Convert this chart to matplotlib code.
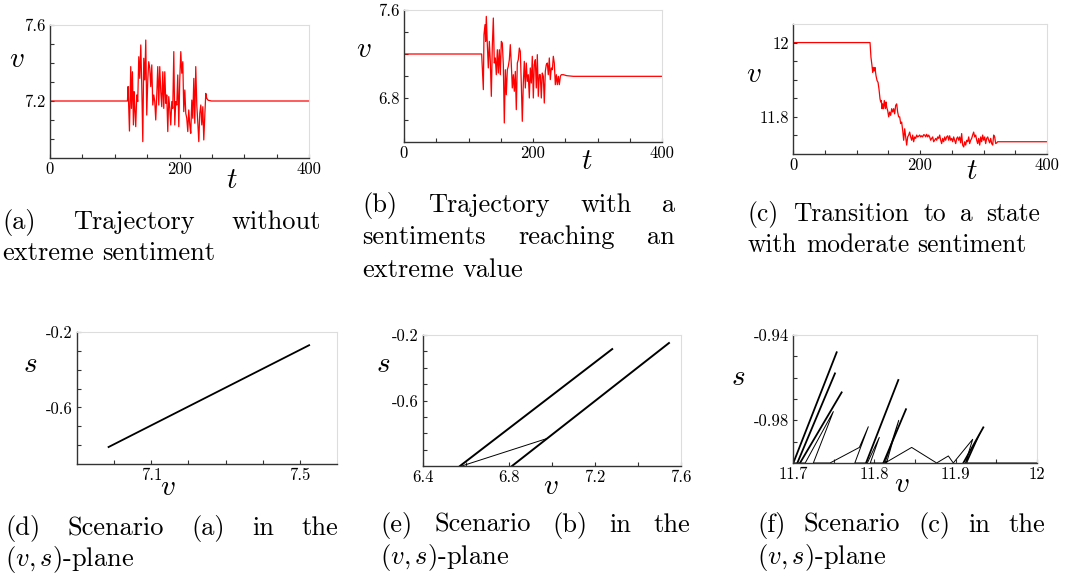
import numpy as np
import matplotlib.pyplot as plt

plt.rcParams['font.family'] = 'cmr10'
plt.rcParams['mathtext.fontset'] = 'cm'
plt.rcParams['axes.unicode_minus'] = False
plt.rcParams['axes.formatter.use_mathtext'] = True

W, H = 1068, 579
RED = '#ff0000'
DARK = '#333333'
LIGHT = '#dddddd'
TICK_FS = 12
LABEL_FS = 21
CAP_FS = 19

# ---- (a) trajectory without extreme sentiment
a_t = [0, 119.6, 120.6, 122.7, 124.7, 125.8, 127.3, 128.8, 129.9, 130.9, 132.4, 134.0, 135.5, 137.1, 138.6,
       140.2, 141.7, 143.3, 144.8, 146.4, 147.9, 149.4, 151.0, 152.5, 154.1, 155.6, 157.2, 158.7, 160.3, 161.8,
       163.3, 164.9, 166.4, 168.0, 169.5, 171.1, 172.6, 174.2, 175.7, 177.3, 178.8, 180.3, 181.9, 183.4, 185.0,
       186.5, 188.1, 189.6, 191.2, 192.7, 194.2, 195.8, 197.3, 198.9, 200.4, 202.0, 203.5, 205.1, 206.6, 208.2,
       209.7, 211.2, 212.8, 214.3, 215.9, 217.4, 219.0, 220.5, 222.1, 223.6, 225.1, 226.7, 228.2, 229.8, 231.3,
       232.9, 234.4, 236.0, 237.5, 239.1, 240.6, 242.1, 244.2, 249.4, 400]
a_v = [7.2, 7.2, 7.276, 7.042, 7.381, 7.161, 7.354, 7.074, 7.249, 7.170, 7.065, 7.232, 7.197, 7.433, 7.319,
       7.495, 7.284, 6.986, 7.425, 7.311, 7.521, 7.126, 7.311, 7.407, 7.372, 7.276, 7.390, 7.179, 7.232, 7.197,
       7.100, 7.232, 7.381, 7.179, 7.381, 7.249, 7.170, 7.354, 7.161, 7.354, 7.188, 7.232, 7.039, 7.223, 7.161,
       7.074, 7.197, 7.161, 7.460, 7.074, 7.197, 7.179, 7.337, 7.065, 7.311, 7.460, 7.346, 7.407, 7.144, 7.258,
       7.135, 7.109, 7.039, 7.153, 7.074, 7.030, 7.205, 7.109, 7.319, 7.083, 7.381, 7.179, 7.091, 6.986, 7.135,
       7.179, 7.074, 7.170, 6.995, 7.126, 7.240, 7.214, 7.204, 7.200, 7.2]

# ---- (b) trajectory reaching an extreme value
b_t = [0, 120.4, 123.0, 124.0, 125.6, 126.6, 127.6, 129.2, 130.7, 132.3, 133.8, 135.4, 136.9, 138.5, 140.0,
       141.6, 143.1, 144.7, 146.2, 147.8, 149.3, 150.9, 152.4, 154.0, 155.5, 157.1, 158.6, 160.2, 161.7, 163.3,
       164.8, 166.4, 167.9, 169.5, 171.0, 172.6, 174.1, 175.7, 177.2, 178.8, 180.3, 181.9, 183.4, 185.0, 186.5,
       188.1, 189.6, 191.2, 192.7, 194.3, 195.8, 197.4, 198.9, 200.5, 202.0, 203.6, 205.1, 206.7, 208.2, 209.8,
       211.3, 212.9, 214.4, 216.0, 217.5, 219.1, 220.6, 222.2, 223.7, 225.3, 226.8, 228.4, 230.0, 231.5, 233.0,
       234.6, 236.2, 237.7, 239.3, 240.8, 242.4, 243.9, 247.0, 252.2, 262.5, 400]
b_v = [7.2, 7.200, 6.876, 7.376, 7.467, 7.315, 7.542, 7.285, 7.073, 7.315, 7.133, 6.815, 7.270, 7.527, 7.118,
       7.164, 7.012, 7.239, 7.027, 7.239, 7.012, 7.315, 7.300, 7.103, 6.573, 7.057, 6.830, 7.057, 7.088, 7.148,
       7.285, 7.103, 6.891, 7.012, 6.861, 7.042, 6.694, 7.118, 7.148, 7.254, 7.224, 6.921, 6.588, 6.936, 7.133,
       6.891, 7.118, 6.951, 7.012, 6.800, 7.073, 6.936, 7.179, 6.800, 7.103, 7.148, 6.891, 7.194, 6.815, 7.012,
       7.012, 6.800, 7.027, 6.997, 6.754, 7.042, 7.103, 7.118, 7.012, 7.164, 6.967, 7.073, 7.057, 7.179, 7.118,
       6.921, 7.012, 6.921, 6.997, 6.921, 6.997, 7.012, 7.012, 7.003, 6.997, 6.997]

# ---- (c) transition to moderate sentiment
c_t = [0, 121.3, 122.8, 124.4, 125.5, 126.5, 128.1, 129.1, 130.7, 132.3, 133.9, 135.4, 137.0, 138.1, 139.1,
       140.2, 141.2, 142.3, 143.8, 145.4, 146.5, 147.5, 149.1, 150.7, 152.2, 153.8, 155.4, 157.0, 158.5, 160.1,
       161.7, 163.3, 164.8, 166.4, 168.0, 169.6, 171.1, 172.7, 174.3, 175.9, 177.4, 179.0, 180.6, 182.2, 183.7,
       185.3, 186.9, 188.5, 190.0, 191.6, 193.2, 194.8, 196.3, 197.9, 199.5, 201.1, 202.6, 204.2, 205.8, 207.4,
       208.9, 210.5, 212.1, 213.7, 215.2, 216.8, 218.4, 220.0, 221.5, 223.1, 224.7, 226.3, 227.8, 229.4, 231.0,
       232.6, 234.1, 235.7, 237.3, 238.9, 240.4, 242.0, 243.6, 245.2, 246.7, 248.3, 249.9, 251.5, 253.0, 254.6,
       256.2, 257.8, 259.3, 260.9, 262.5, 264.1, 265.6, 267.2, 268.8, 270.4, 271.9, 273.5, 275.1, 276.7, 278.2,
       279.8, 281.4, 282.9, 284.5, 286.1, 287.7, 289.3, 290.8, 292.4, 294.0, 295.6, 297.1, 298.7, 300.3, 301.9,
       303.4, 305.0, 306.6, 308.2, 309.7, 311.3, 312.9, 314.5, 316.0, 317.6, 319.2, 320.8, 322.3, 400]
c_v = [12.0, 12.000, 11.960, 11.938, 11.920, 11.933, 11.924, 11.933, 11.911, 11.898, 11.893, 11.875, 11.849,
       11.840, 11.844, 11.822, 11.835, 11.822, 11.844, 11.822, 11.840, 11.826, 11.817, 11.800, 11.813, 11.804,
       11.822, 11.813, 11.822, 11.808, 11.831, 11.835, 11.813, 11.800, 11.800, 11.782, 11.786, 11.764, 11.737,
       11.768, 11.746, 11.724, 11.746, 11.751, 11.759, 11.746, 11.737, 11.751, 11.733, 11.746, 11.742, 11.751,
       11.746, 11.748, 11.751, 11.746, 11.749, 11.746, 11.752, 11.751, 11.746, 11.753, 11.746, 11.751, 11.746,
       11.737, 11.742, 11.746, 11.733, 11.737, 11.742, 11.737, 11.746, 11.742, 11.751, 11.737, 11.728, 11.742,
       11.733, 11.746, 11.737, 11.746, 11.749, 11.737, 11.749, 11.737, 11.742, 11.733, 11.746, 11.737, 11.728,
       11.742, 11.746, 11.737, 11.746, 11.730, 11.755, 11.724, 11.719, 11.733, 11.724, 11.737, 11.733, 11.746,
       11.728, 11.737, 11.742, 11.751, 11.759, 11.746, 11.751, 11.737, 11.728, 11.742, 11.724, 11.746, 11.733,
       11.751, 11.737, 11.746, 11.728, 11.742, 11.746, 11.737, 11.730, 11.742, 11.728, 11.724, 11.751, 11.746,
       11.728, 11.730, 11.733, 11.733]

# ---- (d) scenario (a) in the (v, s)-plane
d_v = [6.985, 7.525]
d_s = [-0.810, -0.270]

# ---- (e) scenario (b) in the (v, s)-plane
e1_v, e1_s = [6.572, 7.280], [-1.0, -0.286]
e2_v, e2_s = [6.814, 7.544], [-1.0, -0.249]
ej_v, ej_s = [6.580, 6.977], [-1.0, -0.832]

# ---- (f) scenario (c) in the (v, s)-plane
f_v = [12.000, 11.9135, 11.9299, 11.9120, 11.9209, 11.8971, 11.8910, 11.8766, 11.8459, 11.8131, 11.8300,
       11.8150, 11.7950, 11.8061, 11.7914, 11.7760, 11.7926, 11.7816, 11.7455, 11.7250, 11.7496, 11.7150, 11.7000]
f_s = [-1.000, -1.000, -0.9861, -1.000, -0.9889, -1.000, -0.9967, -1.000, -0.9927, -1.000, -0.9800,
       -1.000, -1.000, -0.9880, -1.000, -1.000, -0.9830, -0.9927, -1.000, -1.000, -0.9759, -1.000, -1.000]
f_foot_v = [11.7004, 11.7053, 11.7086, 11.7898, 11.8111, 11.9094]
f_peak_v = [11.7537, 11.7516, 11.7598, 11.8295, 11.8389, 11.9340]
f_peak_s = [-0.9481, -0.9580, -0.9669, -0.9611, -0.9748, -0.9833]

captions = {
    'a': ["(a) Trajectory without", "extreme sentiment"],
    'b': ["(b) Trajectory with a", "sentiments reaching an", "extreme value"],
    'c': ["(c) Transition to a state", "with moderate sentiment"],
    'd': ["(d) Scenario (a) in the", "$(v,s)$-plane"],
    'e': ["(e) Scenario (b) in the", "$(v,s)$-plane"],
    'f': ["(f) Scenario (c) in the", "$(v,s)$-plane"],
}

fig = plt.figure(figsize=(W / 100, H / 100), dpi=100)


def make_axes(left, top, right, bottom):
    return fig.add_axes([left / W, 1 - bottom / H, (right - left) / W, (bottom - top) / H])


def style(ax, xlim, ylim, xt, xl, xm, yt, yl, ym, xlab, ylab, xlab_pos, ylab_pos):
    ax.set_xlim(xlim)
    ax.set_ylim(ylim)
    for side in ['top', 'right']:
        ax.spines[side].set_color(LIGHT)
        ax.spines[side].set_linewidth(0.8)
    for side in ['left', 'bottom']:
        ax.spines[side].set_color(DARK)
        ax.spines[side].set_linewidth(1.0)
    ax.set_xticks(xt)
    ax.set_xticklabels(xl)
    ax.set_xticks(xm, minor=True)
    ax.set_yticks(yt)
    ax.set_yticklabels(yl)
    ax.set_yticks(ym, minor=True)
    ax.tick_params(which='both', direction='in', length=3, width=0.8, color=DARK, labelsize=TICK_FS, pad=3,
                   top=False, right=False)
    ax.text(*xlab_pos, xlab, transform=ax.transAxes, fontsize=LABEL_FS, ha='center', va='center')
    ax.text(*ylab_pos, ylab, transform=ax.transAxes, fontsize=LABEL_FS, ha='center', va='center')


# top row: v(t)
ax = make_axes(50, 25, 309, 158)
ax.plot(a_t, a_v, color=RED, lw=0.9)
style(ax, (0, 400), (6.9, 7.6), [0, 200, 400], ['0', '200', '400'], [50, 100, 150, 250, 300, 350],
      [7.2, 7.6], ['7.2', '7.6'], [7.0, 7.1, 7.3, 7.4, 7.5], '$t$', '$v$', (0.703, -0.17), (-0.13, 0.74))

ax = make_axes(404, 10, 662, 142)
ax.plot(b_t, b_v, color=RED, lw=0.9)
style(ax, (0, 400), (6.4, 7.6), [0, 200, 400], ['0', '200', '400'], [50, 100, 150, 250, 300, 350],
      [6.8, 7.6], ['6.8', '7.6'], [6.6, 7.0, 7.2, 7.4], '$t$', '$v$', (0.709, -0.15), (-0.155, 0.70))

ax = make_axes(793, 24, 1047, 154)
ax.plot(c_t, c_v, color=RED, lw=0.9)
style(ax, (0, 400), (11.7, 12.05), [0, 200, 400], ['0', '200', '400'], [50, 100, 150, 250, 300, 350],
      [11.8, 12.0], ['11.8', '12'], [11.75, 11.85, 11.9, 11.95], '$t$', '$v$', (0.705, -0.14), (-0.154, 0.61))

# bottom row: (v, s)-plane
ax = make_axes(77, 332, 337, 464)
ax.plot(d_v, d_s, color='black', lw=1.3)
style(ax, (6.9, 7.6), (-0.9, -0.2), [7.1, 7.5], ['7.1', '7.5'], [7.0, 7.2, 7.3, 7.4],
      [-0.6, -0.2], ['-0.6', '-0.2'], [-0.8, -0.7, -0.5, -0.4, -0.3], '$v$', '$s$', (0.35, -0.18), (-0.18, 0.75))

ax = make_axes(423, 335, 681, 466)
ax.plot(e1_v, e1_s, color='black', lw=1.4)
ax.plot(e2_v, e2_s, color='black', lw=1.4)
ax.plot(ej_v, ej_s, color='black', lw=0.7)
style(ax, (6.4, 7.6), (-1.0, -0.2), [6.4, 6.8, 7.2, 7.6], ['6.4', '6.8', '7.2', '7.6'], [6.6, 7.0, 7.4],
      [-0.6, -0.2], ['-0.6', '-0.2'], [-0.9, -0.8, -0.7, -0.5, -0.4, -0.3], '$v$', '$s$', (0.496, -0.16),
      (-0.155, 0.77))

ax = make_axes(793, 335, 1037, 463)
ax.plot(f_v, f_s, color='black', lw=0.7)
for v0, v1, s1 in zip(f_foot_v, f_peak_v, f_peak_s):
    ax.plot([v0, v1], [-1.0, s1], color='black', lw=1.3)
style(ax, (11.7, 12.0), (-1.0, -0.94), [11.7, 11.8, 11.9, 12.0], ['11.7', '11.8', '11.9', '12'],
      [11.75, 11.85, 11.95], [-0.98, -0.94], ['-0.98', '-0.94'], [-0.99, -0.97, -0.96, -0.95],
      '$v$', '$s$', (0.447, -0.17), (-0.225, 0.664))


# justified captions (LaTeX-like)
renderer = fig.canvas.get_renderer()


def caption(lines, x0, x1, baselines, size=CAP_FS):
    space = 0.333 * size * 100 / 72
    for i, (line, y) in enumerate(zip(lines, baselines)):
        words = line.split(' ')
        texts = [fig.text(0, 0, w, fontsize=size, ha='left', va='baseline') for w in words]
        widths = [t.get_window_extent(renderer).width for t in texts]
        gap = space
        if i < len(lines) - 1 and len(words) > 1:
            gap = (x1 - x0 - sum(widths)) / (len(words) - 1)
        x = x0
        for t, w in zip(texts, widths):
            t.set_position((x / W, 1 - y / H))
            x += w + gap


caption(captions['a'], 2, 321, [229, 260])
caption(captions['b'], 362, 675, [212, 244, 277])
caption(captions['c'], 748, 1040, [221, 252], size=18.3)
caption(captions['d'], 5, 338, [535, 566])
caption(captions['e'], 380, 690, [532, 564])
caption(captions['f'], 757, 1045, [532, 564])

fig.savefig('out.png', dpi=100)
